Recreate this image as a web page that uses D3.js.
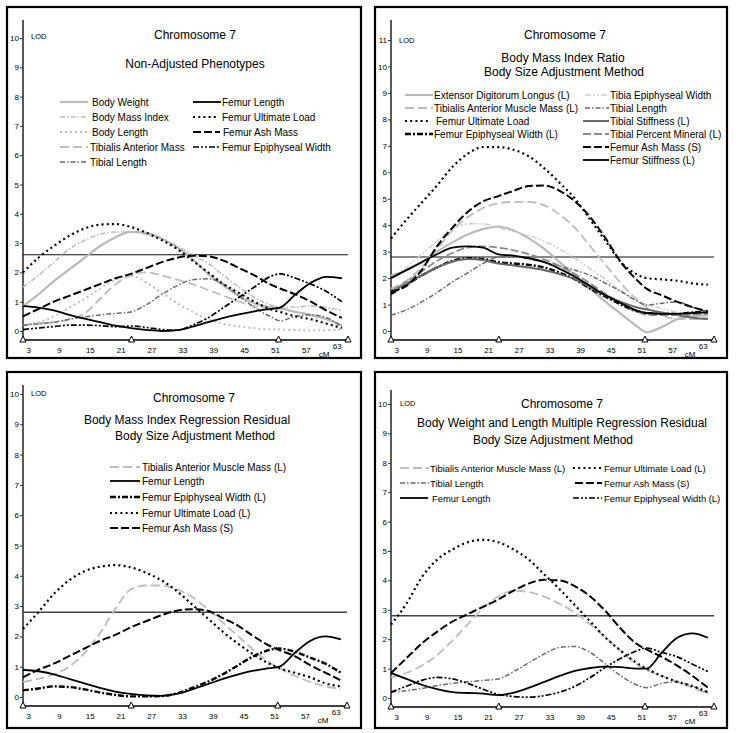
<!DOCTYPE html>
<html><head><meta charset="utf-8">
<script src="https://cdn.jsdelivr.net/npm/d3@7"></script>
<style>
html,body{margin:0;padding:0;background:#fff;}
svg{display:block;font-family:"Liberation Sans",Arial,sans-serif;}
</style></head>
<body><svg id="c" width="736" height="733"></svg>
<script>
// ---------------- DATA ----------------
const cM = [2, 5, 8, 11, 14, 17, 20, 23, 26, 29, 32, 35, 38, 41, 44, 47, 50, 52, 55, 58, 61, 64];
const xTicks = [3, 9, 15, 21, 27, 33, 39, 45, 51, 57, 63];
const markers = [2, 23.1, 51.7, 65.2];

// Panel 1: Non-Adjusted Phenotypes
const p1BodyWeight   = [0.85,1.25,1.7,2.1,2.5,2.9,3.2,3.38,3.35,3.15,2.85,2.45,1.95,1.55,1.2,0.95,0.82,0.78,0.65,0.55,0.4,0.2];
const p1BodyMassIdx  = [1.5,1.9,2.35,2.8,3.1,3.3,3.38,3.38,3.3,3.15,2.9,2.6,2.3,1.9,1.5,1.15,0.9,0.82,0.82,0.85,0.8,0.7];
const p1BodyLength   = [0.2,0.3,0.5,0.8,1.1,1.45,1.75,1.88,1.65,1.3,0.95,0.65,0.4,0.25,0.15,0.1,0.05,0.05,0.03,0.02,0.03,0.05];
const p1TibAntMass   = [0.2,0.25,0.3,0.4,0.6,1.1,1.6,1.9,2.0,1.9,1.75,1.6,1.4,1.2,1.0,0.85,0.78,0.75,0.65,0.55,0.4,0.2];
const p1TibialLength = [0.2,0.25,0.3,0.4,0.48,0.55,0.6,0.65,0.9,1.25,1.55,1.75,1.78,1.6,1.2,0.8,0.5,0.35,0.5,0.55,0.45,0.15];
const p1FemurLength  = [0.85,0.8,0.7,0.55,0.42,0.3,0.18,0.1,0.04,0.0,0.03,0.15,0.3,0.45,0.57,0.67,0.75,0.8,1.25,1.65,1.85,1.8];
const p1FemurUltLoad = [2.0,2.5,2.9,3.25,3.5,3.63,3.65,3.55,3.35,3.1,2.8,2.4,2.0,1.6,1.3,1.0,0.75,0.65,0.5,0.4,0.25,0.1];
const p1FemurAshMass = [0.5,0.75,1.0,1.2,1.4,1.6,1.8,1.95,2.15,2.35,2.5,2.57,2.55,2.4,2.15,1.9,1.6,1.45,1.25,1.0,0.7,0.45];
const p1FemurEpiW    = [0.05,0.1,0.15,0.2,0.2,0.18,0.15,0.17,0.12,0.05,0.03,0.2,0.45,0.8,1.15,1.5,1.85,1.95,1.8,1.6,1.35,1.0];

// Panel 2: Body Mass Index Ratio
const p2ExtDigLong   = [2.1,2.3,2.6,3.0,3.35,3.65,3.85,3.95,3.8,3.5,3.1,2.6,2.1,1.6,1.1,0.65,0.2,-0.05,0.15,0.45,0.55,0.6];
const p2TibAntMM     = [1.6,1.9,2.4,3.1,3.8,4.3,4.65,4.82,4.88,4.88,4.75,4.4,3.9,3.2,2.5,1.8,1.2,0.9,0.6,0.45,0.45,0.5];
const p2FemurUltLoad = [3.5,4.2,4.85,5.5,6.2,6.7,6.95,6.95,6.85,6.6,6.15,5.6,5.0,4.2,3.4,2.6,2.15,2.0,1.95,1.9,1.8,1.75];
const p2FemurEpiW    = [1.4,1.75,2.1,2.4,2.65,2.75,2.72,2.6,2.55,2.5,2.4,2.2,1.95,1.6,1.3,1.0,0.75,0.68,0.65,0.65,0.7,0.75];
const p2TibiaEpiW    = [2.0,2.4,2.9,3.4,3.85,4.05,4.05,3.9,3.75,3.6,3.4,3.1,2.75,2.35,1.95,1.5,1.15,1.0,0.85,0.7,0.6,0.55];
const p2TibialLength = [0.6,0.8,1.1,1.45,1.85,2.2,2.55,2.8,2.82,2.72,2.6,2.45,2.3,2.1,1.8,1.5,1.15,0.98,1.05,1.1,0.9,0.7];
const p2TibialStiff  = [1.5,1.8,2.1,2.4,2.62,2.72,2.68,2.55,2.48,2.4,2.3,2.15,1.95,1.65,1.35,1.1,0.9,0.82,0.7,0.6,0.5,0.45];
const p2TibialPctMin = [1.5,1.85,2.25,2.65,2.95,3.15,3.2,3.15,3.05,2.9,2.7,2.45,2.15,1.8,1.4,1.05,0.75,0.62,0.6,0.6,0.62,0.65];
const p2FemurAshMass = [1.5,1.7,2.3,3.2,3.9,4.5,4.9,5.1,5.3,5.48,5.5,5.3,4.9,4.3,3.5,2.6,1.95,1.6,1.35,1.1,0.9,0.75];
const p2FemurStiff   = [2.0,2.3,2.6,2.9,3.15,3.2,3.15,2.9,2.85,2.75,2.6,2.35,2.05,1.7,1.35,1.05,0.78,0.68,0.65,0.65,0.68,0.7];

// Panel 3: Body Mass Index Regression Residual
const p3TibAntMM     = [0.5,0.6,0.75,1.0,1.45,2.1,2.9,3.55,3.68,3.68,3.55,3.3,2.9,2.45,2.0,1.55,1.15,0.95,0.7,0.5,0.35,0.28];
const p3FemurLength  = [0.9,0.85,0.75,0.6,0.45,0.3,0.18,0.1,0.05,0.04,0.1,0.25,0.42,0.6,0.75,0.87,0.95,1.0,1.45,1.85,2.0,1.9];
const p3FemurEpiW    = [0.22,0.28,0.35,0.33,0.25,0.15,0.07,0.02,0.02,0.03,0.12,0.3,0.5,0.75,1.05,1.35,1.55,1.6,1.5,1.3,1.1,0.8];
const p3FemurUltLoad = [2.25,2.8,3.4,3.85,4.15,4.3,4.35,4.28,4.1,3.85,3.5,3.05,2.6,2.15,1.75,1.4,1.1,0.95,0.8,0.65,0.45,0.35];
const p3FemurAshMass = [0.65,0.9,1.1,1.35,1.6,1.85,2.05,2.3,2.5,2.7,2.85,2.9,2.85,2.6,2.35,2.0,1.7,1.55,1.35,1.05,0.8,0.55];

// Panel 4: Body Weight and Length Multiple Regression Residual
const p4TibAntMM     = [0.7,0.85,1.1,1.45,1.95,2.5,3.05,3.45,3.65,3.6,3.45,3.2,2.9,2.5,2.05,1.6,1.15,0.95,0.75,0.55,0.35,0.15];
const p4TibialLength = [0.2,0.25,0.32,0.42,0.5,0.55,0.6,0.65,0.9,1.2,1.5,1.72,1.75,1.55,1.15,0.75,0.45,0.35,0.5,0.55,0.4,0.18];
const p4FemurLength  = [0.85,0.65,0.45,0.3,0.2,0.17,0.15,0.1,0.18,0.35,0.55,0.75,0.92,1.02,1.07,1.05,1.0,1.0,1.55,2.05,2.2,2.05];
const p4FemurUltLoad = [2.5,3.2,4.1,4.7,5.05,5.3,5.38,5.3,5.05,4.7,4.2,3.7,3.15,2.6,2.05,1.6,1.2,1.0,0.75,0.55,0.4,0.2];
const p4FemurAshMass = [0.85,1.35,1.85,2.25,2.6,2.85,3.1,3.35,3.65,3.9,4.02,4.0,3.8,3.45,2.95,2.35,1.85,1.65,1.4,1.1,0.75,0.35];
const p4FemurEpiW    = [0.2,0.4,0.6,0.7,0.65,0.5,0.3,0.12,0.05,0.03,0.08,0.2,0.4,0.7,1.05,1.35,1.6,1.7,1.55,1.4,1.15,0.9];

const thresholds = [2.6, 2.8, 2.8, 2.8];

// ---------------- STYLES ----------------
const ST = {
  grySolid:   {stroke:"#b9b9b9", w:2.2, dash:null},
  gryDashDot: {stroke:"#bdbdbd", w:1.6, dash:"5,2,1.5,2"},
  gryDot:     {stroke:"#bdbdbd", w:2,   dash:"2,3"},
  gryLong:    {stroke:"#bdbdbd", w:1.8, dash:"9,4"},
  drkDashDot: {stroke:"#6a6a6a", w:1.5, dash:"5,2,1.5,2"},
  blkSolid:   {stroke:"#000",    w:1.8, dash:null},
  blkDot:     {stroke:"#000",    w:2.2, dash:"2,3.2"},
  blkLong:    {stroke:"#000",    w:2,   dash:"8,3"},
  blkDDD:     {stroke:"#000",    w:1.7, dash:"6,2,2,2,2,2"},
  blkDashDot: {stroke:"#000",    w:2.4, dash:"6,2,2,2"},
  ltDDD:      {stroke:"#cfcfcf", w:1.5, dash:"6,2,2,2,2,2"},
  drkSolid:   {stroke:"#666",    w:2,   dash:null},
  midLong:    {stroke:"#8a8a8a", w:1.8, dash:"8,3"},
};

const panels = [
  {box:[7,7,361,358], ax:23, axEnd:348, base:340, y0:331, yTop:38, yTopVal:10, axTop:20, lgSize:10,
   lod:[31,39], titles:[["Chromosome 7",195,39],["Non-Adjusted Phenotypes",195,68]],
   series:[
    {name:"Body Weight", v:p1BodyWeight, s:"grySolid", lg:[60,88,92,102]},
    {name:"Body Mass Index", v:p1BodyMassIdx, s:"gryDashDot", lg:[60,88,92,117]},
    {name:"Body Length", v:p1BodyLength, s:"gryDot", lg:[60,88,92,132]},
    {name:"Tibialis Anterior Mass", v:p1TibAntMass, s:"gryLong", lg:[60,88,90,147]},
    {name:"Tibial Length", v:p1TibialLength, s:"drkDashDot", lg:[60,88,90,162]},
    {name:"Femur Length", v:p1FemurLength, s:"blkSolid", lg:[193,221,222,102]},
    {name:"Femur Ultimate Load", v:p1FemurUltLoad, s:"blkDot", lg:[193,219,222,117]},
    {name:"Femur Ash Mass", v:p1FemurAshMass, s:"blkLong", lg:[193,220,223,132]},
    {name:"Femur Epiphyseal Width", v:p1FemurEpiW, s:"blkDDD", lg:[193,221,222,147]},
   ]},
  {box:[375,7,727,358], ax:391, axEnd:714, base:340, y0:331, yTop:40, yTopVal:11, axTop:20, lgSize:10,
   lod:[399,43], titles:[["Chromosome 7",565,39],["Body Mass Index Ratio",563,62],["Body Size Adjustment Method",564,76]],
   series:[
    {name:"Extensor Digitorum Longus (L)", v:p2ExtDigLong, s:"grySolid", lg:[405,433,434,95]},
    {name:"Tibialis Anterior Muscle Mass (L)", v:p2TibAntMM, s:"gryLong", lg:[405,433,434,108]},
    {name:"Femur Ultimate Load", v:p2FemurUltLoad, s:"blkDot", lg:[405,430,436,121]},
    {name:"Femur Epiphyseal Width (L)", v:p2FemurEpiW, s:"blkDashDot", lg:[405,433,434,134]},
    {name:"Tibia Epiphyseal Width", v:p2TibiaEpiW, s:"ltDDD", lg:[585,609,610,95]},
    {name:"Tibial Length", v:p2TibialLength, s:"drkDashDot", lg:[585,609,610,108]},
    {name:"Tibial Stiffness (L)", v:p2TibialStiff, s:"drkSolid", lg:[583,609,610,121]},
    {name:"Tibial Percent Mineral (L)", v:p2TibialPctMin, s:"midLong", lg:[583,609,610,134]},
    {name:"Femur Ash Mass (S)", v:p2FemurAshMass, s:"blkLong", lg:[583,609,610,147]},
    {name:"Femur Stiffness (L)", v:p2FemurStiff, s:"blkSolid", lg:[583,609,610,160]},
   ]},
  {box:[7,372,361,728], ax:23, axEnd:347, base:706, y0:697, yTop:394, yTopVal:10, axTop:385, lgSize:10,
   lod:[31,396], titles:[["Chromosome 7",194,402],["Body Mass Index Regression Residual",187,424],["Body Size Adjustment Method",195,440]],
   series:[
    {name:"Tibialis Anterior Muscle Mass (L)", v:p3TibAntMM, s:"gryLong", lg:[110,140,142,467]},
    {name:"Femur Length", v:p3FemurLength, s:"blkSolid", lg:[110,140,142,481]},
    {name:"Femur Epiphyseal Width (L)", v:p3FemurEpiW, s:"blkDashDot", lg:[110,140,142,497]},
    {name:"Femur Ultimate Load (L)", v:p3FemurUltLoad, s:"blkDot", lg:[110,140,142,513]},
    {name:"Femur Ash Mass (S)", v:p3FemurAshMass, s:"blkLong", lg:[110,140,142,528]},
   ]},
  {box:[375,372,727,728], ax:391, axEnd:714, base:707, y0:698, yTop:404, yTopVal:10, axTop:390, lgSize:9.4,
   lod:[400,406], titles:[["Chromosome 7",562,408],["Body Weight and Length Multiple Regression Residual",562,427],["Body Size Adjustment Method",553,444]],
   series:[
    {name:"Tibialis Anterior Muscle Mass (L)", v:p4TibAntMM, s:"gryLong", lg:[400,429,430,468]},
    {name:"Tibial Length", v:p4TibialLength, s:"drkDashDot", lg:[400,429,430,483]},
    {name:"Femur Length", v:p4FemurLength, s:"blkSolid", lg:[400,428,432,498]},
    {name:"Femur Ultimate Load (L)", v:p4FemurUltLoad, s:"blkDot", lg:[573,601,604,468]},
    {name:"Femur Ash Mass (S)", v:p4FemurAshMass, s:"blkLong", lg:[575,602,604,483]},
    {name:"Femur Epiphyseal Width (L)", v:p4FemurEpiW, s:"blkDDD", lg:[573,602,604,498]},
   ]},
];

// ---------------- DRAW ----------------
const svg = d3.select("#c");
svg.append("rect").attr("width",736).attr("height",733).attr("fill","#fff");

function applyStyle(sel, st){
  sel.attr("fill","none").attr("stroke",st.stroke).attr("stroke-width",st.w);
  if (st.dash) sel.attr("stroke-dasharray",st.dash);
  return sel;
}

panels.forEach((p, i) => {
  const g = svg.append("g");
  const [bx0,by0,bx1,by1] = p.box;
  g.append("rect").attr("x",bx0).attr("y",by0).attr("width",bx1-bx0).attr("height",by1-by0)
    .attr("fill","#fff").attr("stroke","#000").attr("stroke-width",2.2);

  const x = d3.scaleLinear().domain([2, 65.2]).range([p.ax, p.axEnd]);
  const y = d3.scaleLinear().domain([0, p.yTopVal]).range([p.y0, p.yTop]);

  // y axis
  g.append("line").attr("x1",p.ax).attr("x2",p.ax).attr("y1",p.axTop).attr("y2",p.base)
    .attr("stroke","#000").attr("stroke-width",1.3);
  const yAxis = d3.axisLeft(y).tickValues(d3.range(0,p.yTopVal+1))
    .tickSize(3).tickPadding(1).tickFormat(d3.format("d"));
  const ya = g.append("g").attr("transform",`translate(${p.ax},0)`).call(yAxis);
  ya.select(".domain").remove();
  ya.selectAll("text").attr("font-size",8).attr("fill","#000").attr("font-family","Liberation Sans, Arial, sans-serif");
  ya.selectAll("line").attr("stroke","#333");

  // x axis
  g.append("line").attr("x1",p.ax).attr("x2",p.axEnd).attr("y1",p.base).attr("y2",p.base)
    .attr("stroke","#000").attr("stroke-width",1.6);
  const xAxis = d3.axisBottom(x).tickValues(xTicks).tickSize(0).tickPadding(7).tickFormat(d3.format("d"));
  const xa = g.append("g").attr("transform",`translate(0,${p.base})`).call(xAxis);
  xa.select(".domain").remove();
  xa.selectAll("text").attr("font-size",8).attr("fill","#000").attr("font-family","Liberation Sans, Arial, sans-serif")
    .attr("dy", d => d === 63 ? "0.3em" : "0.71em");
  g.append("text").attr("x", x(59.5)).attr("y", p.base+17).attr("font-size",8).attr("fill","#000").text("cM");

  // markers
  markers.forEach(m => {
    const mx = x(m);
    g.append("path").attr("d",`M${mx-3},${p.base+2}L${mx+3},${p.base+2}L${mx},${p.base-4}Z`)
      .attr("fill","#fff").attr("stroke","#000").attr("stroke-width",1);
  });

  // LOD label
  g.append("text").attr("x",p.lod[0]).attr("y",p.lod[1]).attr("font-size",7.5).attr("fill","#000").text("LOD");

  // titles
  p.titles.forEach(t => {
    g.append("text").attr("x",t[1]).attr("y",t[2]).attr("text-anchor","middle")
      .attr("font-size",12).attr("fill","#000").text(t[0]);
  });

  // threshold
  g.append("line").attr("x1",p.ax).attr("x2",p.axEnd).attr("y1",y(thresholds[i])).attr("y2",y(thresholds[i]))
    .attr("stroke", i>=2 ? "#444" : "#111").attr("stroke-width", i>=2 ? 1.5 : 1.1);

  // curves
  const line = d3.line().x((d,k)=>x(cM[k])).y(d=>y(d)).curve(d3.curveMonotoneX);
  p.series.forEach(s => {
    applyStyle(g.append("path").datum(s.v).attr("d",line), ST[s.s]);
  });

  // legend
  p.series.forEach(s => {
    const [l0,l1,tx,ty] = s.lg;
    applyStyle(g.append("line").attr("x1",l0).attr("x2",l1).attr("y1",ty).attr("y2",ty), ST[s.s]);
    g.append("text").attr("x",tx).attr("y",ty+3.5).attr("font-size",p.lgSize).attr("fill","#000").text(s.name);
  });
});
</script>
</body></html>
